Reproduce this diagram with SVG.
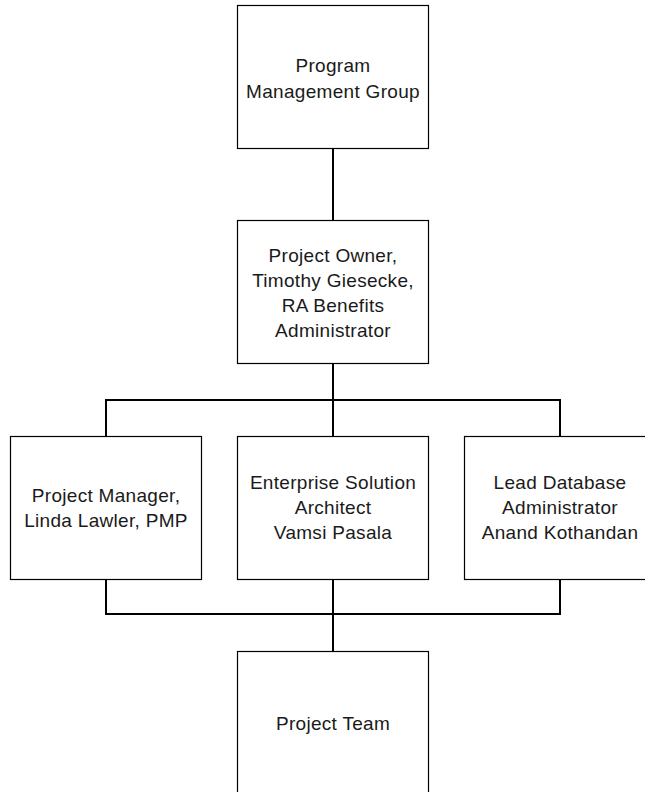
<svg xmlns="http://www.w3.org/2000/svg" width="645" height="792" viewBox="0 0 645 792">
<style>
.box{fill:#fff;stroke:#000;stroke-width:1.2}
.lbl{font-family:"Liberation Sans",Arial,sans-serif;font-size:19px;letter-spacing:0.3px;fill:#1a1a1a;text-anchor:middle}
.conn{fill:none;stroke:#000;stroke-width:2}
</style>
<rect width="645" height="792" fill="#fff"/>
<g id="connectors">
<line class="conn" x1="333" y1="148" x2="333" y2="220"/>
<line class="conn" x1="333" y1="363" x2="333" y2="436"/>
<polyline class="conn" points="106,436 106,400 560,400 560,436"/>
<polyline class="conn" points="106,579 106,614 560,614 560,579"/>
<line class="conn" x1="333" y1="579" x2="333" y2="651"/>
</g>
<g id="program-management-group">
<rect class="box" x="237.5" y="5.5" width="191" height="143"/>
<text class="lbl" x="333" y="71.5">Program</text>
<text class="lbl" x="333" y="97.5">Management Group</text>
</g>
<g id="project-owner">
<rect class="box" x="237.5" y="220.5" width="191" height="143"/>
<text class="lbl" x="333" y="261.5">Project Owner,</text>
<text class="lbl" x="333" y="286.5">Timothy Giesecke,</text>
<text class="lbl" x="333" y="311.5">RA Benefits</text>
<text class="lbl" x="333" y="336.5">Administrator</text>
</g>
<g id="project-manager">
<rect class="box" x="10.5" y="436.5" width="191" height="143"/>
<text class="lbl" x="106" y="501.5">Project Manager,</text>
<text class="lbl" x="106" y="526.5">Linda Lawler, PMP</text>
</g>
<g id="enterprise-solution-architect">
<rect class="box" x="237.5" y="436.5" width="191" height="143"/>
<text class="lbl" x="333" y="489">Enterprise Solution</text>
<text class="lbl" x="333" y="514">Architect</text>
<text class="lbl" x="333" y="539">Vamsi Pasala</text>
</g>
<g id="lead-database-administrator">
<rect class="box" x="464.5" y="436.5" width="191" height="143"/>
<text class="lbl" x="560" y="489">Lead Database</text>
<text class="lbl" x="560" y="514">Administrator</text>
<text class="lbl" x="560" y="539">Anand Kothandan</text>
</g>
<g id="project-team">
<rect class="box" x="237.5" y="651.5" width="191" height="143"/>
<text class="lbl" x="333" y="729.5">Project Team</text>
</g>
</svg>
